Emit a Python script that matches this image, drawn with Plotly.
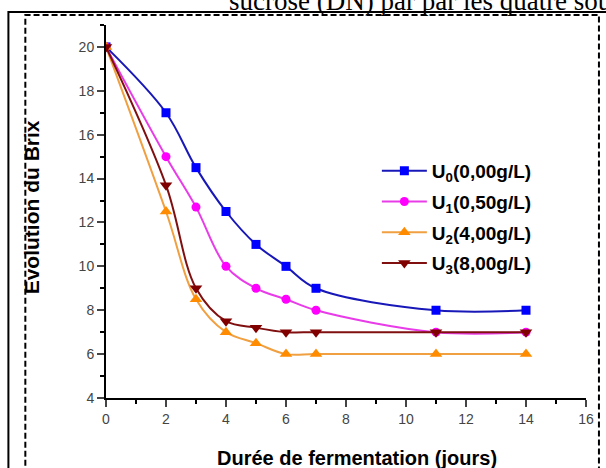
import plotly.graph_objects as go

days = [0, 2, 3, 4, 5, 6, 7, 11, 14]
u0 = [20, 17, 14.5, 12.5, 11, 10, 9, 8, 8]
u1 = [20, 15, 12.7, 10, 9, 8.5, 8, 7, 7]
u2 = [20, 12.5, 8.5, 7, 6.5, 6, 6, 6, 6]
u3 = [20, 13.7, 9, 7.5, 7.2, 7, 7, 7, 7]

names = ["U<sub>0</sub>(0,00g/L)", "U<sub>1</sub>(0,50g/L)",
         "U<sub>2</sub>(4,00g/L)", "U<sub>3</sub>(8,00g/L)"]
series = [u0, u1, u2, u3]
line_colors = ["#1818b8", "#e83ce8", "#f0a040", "#801010"]
marker_colors = ["#0000ff", "#ff00ff", "#ff8c00", "#800000"]
symbols = ["square", "circle", "triangle-up", "triangle-down"]
sizes = [9, 9, 11, 11]

xticks = [0, 2, 4, 6, 8, 10, 12, 14, 16]
yticks = [4, 6, 8, 10, 12, 14, 16, 18, 20]

L, R, T, B = 106, 18, 25, 70
W, H = 606, 468
PW, PH = W - L - R, H - T - B

def px(x):
    return (x - L) / PW

def py(y):
    return (H - B - y) / PH

fig = go.Figure()
for i in range(4):
    fig.add_trace(go.Scatter(
        x=days, y=series[i], name=names[i], mode="lines+markers",
        line=dict(color=line_colors[i], width=2, shape="spline", smoothing=1),
        marker=dict(symbol=symbols[i], size=sizes[i], color=marker_colors[i]),
        legendgroup=f"g{i}",
    ))

fig.update_layout(
    width=W, height=H,
    margin=dict(l=L, r=R, t=T, b=B),
    paper_bgcolor="white", plot_bgcolor="white",
    font=dict(family="Liberation Sans, Arial", color="#333"),
    showlegend=True,
    legend=dict(x=px(378), y=py(152), xanchor="left", yanchor="top",
                bgcolor="rgba(0,0,0,0)", traceorder="grouped", tracegroupgap=3,
                itemwidth=45,
                font=dict(size=19, color="black", family="Liberation Sans, Arial", weight="bold")),
    xaxis=dict(range=[0, 16], tickvals=xticks, ticks="outside", ticklen=7, tickwidth=2,
               showline=True, linecolor="black", linewidth=2, showgrid=False, zeroline=False,
               tickfont=dict(size=14, color="#444"),
               minor=dict(dtick=1, tick0=0, ticks="outside", ticklen=4, tickwidth=2, tickcolor="black", showgrid=False)),
    yaxis=dict(range=[4, 21], tickvals=yticks, ticks="outside", ticklen=7, tickwidth=2,
               showline=True, linecolor="black", linewidth=2, showgrid=False, zeroline=False,
               tickfont=dict(size=14, color="#444"),
               minor=dict(dtick=1, tick0=0, ticks="outside", ticklen=4, tickwidth=2, tickcolor="black", showgrid=False)),
)

fig.add_annotation(text="<b>Durée de fermentation (jours)</b>", xref="paper", yref="paper",
                   x=px(358), y=py(458), xanchor="center", yanchor="middle", showarrow=False,
                   font=dict(size=20, color="black", family="Liberation Sans, Arial"))
fig.add_annotation(text="<b>Evolution du Brix</b>", xref="paper", yref="paper",
                   x=px(31), y=py(207), xanchor="center", yanchor="middle", showarrow=False, textangle=-90,
                   font=dict(size=21, color="black", family="Liberation Sans, Arial"))
fig.add_annotation(text="sucrose (DN) par par les quatre souches", xref="paper", yref="paper",
                   x=px(228), y=py(18), xanchor="left", yanchor="bottom", showarrow=False,
                   font=dict(size=27, color="black", family="Liberation Serif, Times New Roman"))

fig.add_shape(type="rect", xref="paper", yref="paper",
              x0=px(8), x1=px(640), y0=py(520), y1=py(12),
              line=dict(color="black", width=2), layer="above")
fig.add_shape(type="rect", xref="paper", yref="paper",
              x0=px(25), x1=px(601), y0=py(520), y1=py(15),
              line=dict(color="black", width=2, dash="6px,3px"), layer="above")

fig.write_html("out.html", config={"displayModeBar": False},
               post_script="document.body.style.margin='0';document.documentElement.style.overflow='hidden';")
